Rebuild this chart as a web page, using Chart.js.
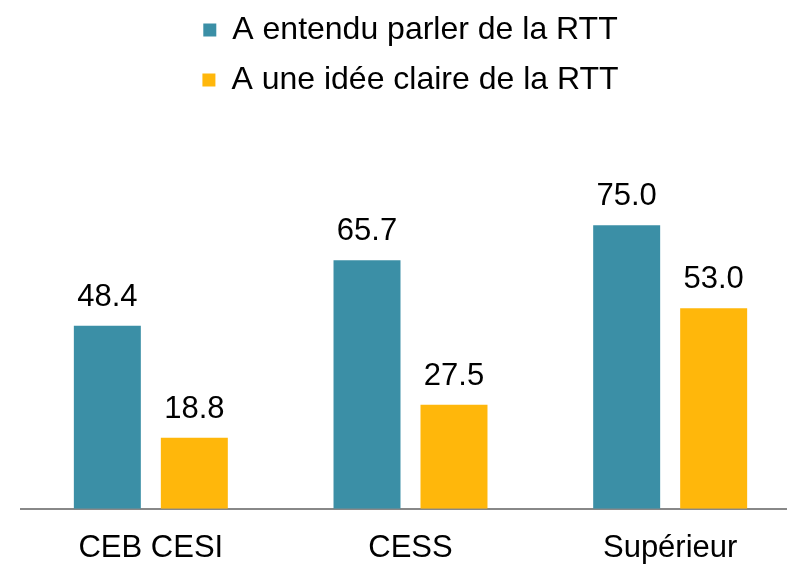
<!DOCTYPE html>
<html>
<head>
<meta charset="utf-8">
<script src="https://cdn.jsdelivr.net/npm/chart.js@4"></script>
<style>
  html, body { margin: 0; padding: 0; background: #fff; overflow: hidden; }
  #wrap { width: 787px; height: 566px; overflow: hidden; }
</style>
</head>
<body>
<div id="wrap"><canvas id="chart" width="800" height="566"></canvas></div>
<script>
const categories = ['CEB CESI', 'CESS', 'Supérieur'];
const heardOf = [48.4, 65.7, 75.0];
const clearIdea = [18.8, 27.5, 53.0];
const seriesNames = ['A entendu parler de la RTT', 'A une idée claire de la RTT'];

// draws the value above each bar
const valueLabels = {
  id: 'valueLabels',
  afterDatasetsDraw(chart) {
    const ctx = chart.ctx;
    ctx.save();
    ctx.font = '31px "Liberation Sans", Arial, sans-serif';
    ctx.fillStyle = '#000';
    ctx.textAlign = 'center';
    ctx.textBaseline = 'bottom';
    chart.data.datasets.forEach((ds, i) => {
      chart.getDatasetMeta(i).data.forEach((bar, j) => {
        ctx.fillText(ds.data[j].toFixed(1), bar.x, bar.y - 13);
      });
    });
    ctx.restore();
  }
};

const ctx = document.getElementById('chart').getContext('2d');
new Chart(ctx, {
  type: 'bar',
  data: {
    labels: categories,
    datasets: [
      {
        label: seriesNames[0],
        data: heardOf,
        backgroundColor: '#3B8FA6',
        categoryPercentage: 0.67,
        barPercentage: 0.77
      },
      {
        label: seriesNames[1],
        data: clearIdea,
        backgroundColor: '#FFB70B',
        categoryPercentage: 0.67,
        barPercentage: 0.77
      }
    ]
  },
  options: {
    responsive: false,
    animation: false,
    layout: { padding: { left: 21, right: 0, top: -4, bottom: -14 } },
    plugins: {
      tooltip: { enabled: false },
      legend: {
        position: 'top',
        labels: {
          boxWidth: 13,
          boxHeight: 13,
          padding: 18,
          color: '#000',
          font: { family: '"Liberation Sans", Arial, sans-serif', size: 32 }
        }
      }
    },
    scales: {
      x: {
        grid: { display: false },
        border: { display: true, color: '#888', width: 2 },
        ticks: {
          color: '#000',
          padding: 13,
          font: { family: '"Liberation Sans", Arial, sans-serif', size: 31 }
        }
      },
      y: {
        display: false,
        min: 0,
        max: 106.5
      }
    }
  },
  plugins: [valueLabels]
});
</script>
</body>
</html>
